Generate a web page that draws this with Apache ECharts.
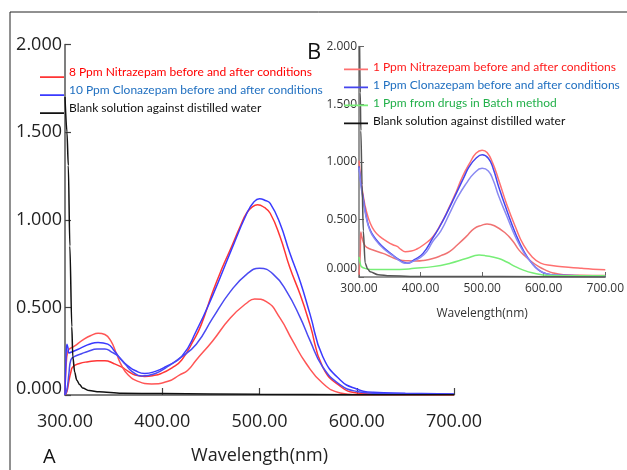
<!DOCTYPE html>
<html>
<head>
<meta charset="utf-8">
<script src="https://cdn.jsdelivr.net/npm/echarts@6/dist/echarts.min.js"></script>
<style>
html,body{margin:0;padding:0;background:#fff;}
#c{width:627px;height:470px;}
</style>
</head>
<body>
<div id="c"></div>
<script>
// ---------- Panel A (main) ----------
const xTicks = [300, 400, 500, 600, 700];
const yTicks = [0, 0.5, 1.0, 1.5, 2.0];

const nameA_N = '8 Ppm Nitrazepam before and after conditions';
const nameA_C = '10 Ppm Clonazepam before and after conditions';
const nameBlank = 'Blank solution against distilled water';

// Nitrazepam, high peak
const wlA_N1 = [300,302,304,306,308,315,324,333,341,350,358,365,372,382,390,399,410,420,432,440,452,462,470,480,487,493,498,505,511,521,531,542,552,565,583,600,620,700];
const abA_N1 = [0.0,0.02,0.08,0.13,0.16,0.18,0.19,0.196,0.196,0.18,0.16,0.135,0.114,0.106,0.11,0.123,0.155,0.2,0.31,0.40,0.59,0.73,0.83,0.96,1.04,1.075,1.085,1.07,1.037,0.906,0.73,0.57,0.40,0.16,0.05,0.012,0.005,0.003];
// Nitrazepam, low peak
const wlA_N2 = [300,301,303,310,320,327,334,341,347,353,358,365,375,389,406,418,426,435,452,470,487,495,507,521,534,548,565,583,600,700];
const abA_N2 = [0.0,0.15,0.25,0.28,0.32,0.34,0.352,0.345,0.31,0.235,0.17,0.114,0.078,0.063,0.078,0.115,0.14,0.2,0.31,0.44,0.525,0.548,0.533,0.44,0.31,0.18,0.067,0.012,0.002,0.0];
// Clonazepam, high peak
const wlA_C1 = [300,301,302,303,304,307,317,325,334,344,351,358,365,372,382,393,403,420,435,452,470,487,494,500,506,511,521,531,542,552,565,583,600,617,650,700];
const abA_C1 = [0.0,0.2,0.29,0.27,0.24,0.245,0.27,0.29,0.30,0.29,0.25,0.20,0.165,0.14,0.123,0.135,0.16,0.22,0.365,0.57,0.813,1.037,1.1,1.12,1.11,1.093,0.98,0.813,0.645,0.46,0.22,0.086,0.034,0.015,0.01,0.005];
// Clonazepam, low peak
const wlA_C2 = [300,302,304,306,310,317,324,333,341,348,355,362,369,379,393,405,418,435,452,470,487,500,514,528,542,552,565,583,600,617,650,700];
const abA_C2 = [0.0,0.03,0.12,0.2,0.22,0.235,0.25,0.262,0.263,0.245,0.22,0.175,0.134,0.108,0.123,0.16,0.21,0.29,0.44,0.59,0.69,0.723,0.69,0.59,0.44,0.31,0.16,0.058,0.02,0.01,0.006,0.004];
// Blank
const wlA_B = [300,302,303.4,305,307,308,310,312,315,318,325,335,358,400,500,600,700];
const abA_B = [1.70,1.5,1.31,0.85,0.39,0.22,0.13,0.086,0.06,0.04,0.025,0.018,0.01,0.008,0.004,0.002,0.001];

// ---------- Panel B (inset) ----------
const nameB_N = '1 Ppm Nitrazepam before and after conditions';
const nameB_C = '1 Ppm Clonazepam before and after conditions';
const nameB_G = '1 Ppm from drugs in Batch method';

const wlB_N1 = [300,303,307,312,318,325,334,345,355,362,368,375,385,393,405,420,433,447,458,468,480,490,500,508,517,527,540,554,567,581,595,613,640,662,680,700];
const abB_N1 = [1.01,0.85,0.70,0.57,0.47,0.40,0.35,0.31,0.28,0.265,0.24,0.22,0.225,0.24,0.28,0.35,0.46,0.61,0.74,0.87,0.99,1.073,1.10,1.08,0.99,0.84,0.63,0.436,0.28,0.175,0.12,0.10,0.085,0.075,0.068,0.062];
const wlB_N2 = [300,302,303,305,308,312,325,339,352,366,380,393,407,420,433,447,460,474,487,500,508,520,538,550,560,570,581,592,603,615,632,660,700];
const abB_N2 = [0.02,0.2,0.39,0.34,0.29,0.26,0.23,0.205,0.175,0.147,0.14,0.138,0.145,0.16,0.185,0.22,0.28,0.35,0.42,0.45,0.46,0.445,0.38,0.31,0.233,0.18,0.13,0.09,0.06,0.035,0.02,0.015,0.012];
const wlB_C1 = [300,303,307,312,318,327,339,355,365,371,379,390,404,420,431,445,458,470,479,490,500,510,518,527,540,554,568,581,592,603,620,700];
const abB_C1 = [0.96,0.82,0.68,0.52,0.41,0.33,0.26,0.19,0.15,0.13,0.12,0.15,0.205,0.34,0.436,0.58,0.726,0.86,0.957,1.03,1.06,1.03,0.94,0.78,0.58,0.38,0.22,0.118,0.06,0.03,0.015,0.01];
const wlB_C2 = [300,303,307,312,318,327,339,355,365,375,385,400,410,420,433,447,460,474,487,500,510,518,527,540,554,568,581,592,603,620,700];
const abB_C2 = [0.95,0.80,0.66,0.51,0.40,0.32,0.25,0.185,0.145,0.12,0.13,0.17,0.22,0.31,0.40,0.55,0.69,0.81,0.90,0.943,0.92,0.84,0.70,0.53,0.35,0.21,0.12,0.06,0.03,0.015,0.01];
const wlB_G = [300,302,304,310,318,340,366,390,420,447,474,495,505,527,540,554,567,581,597,613,650,700];
const abB_G = [0.175,0.12,0.09,0.075,0.066,0.066,0.066,0.075,0.09,0.118,0.16,0.19,0.185,0.16,0.13,0.09,0.06,0.036,0.02,0.012,0.01,0.01];
const wlB_B = [301,302,303,305,307,310,314,318,331,350,400,700];
const abB_B = [2.0,1.6,1.27,0.8,0.4,0.12,0.07,0.045,0.02,0.01,0.005,0.0];

function pairs(xs, ys){ return xs.map((x,i)=>[x, ys[i]]); }

const FONT_AX = 'Open Sans';
const FONT_LG = 'Lato';

function mkSeries(name, xi, yi, xs, ys, color, mono){
  const s = {
    type:'line', name, xAxisIndex:xi, yAxisIndex:yi,
    data: pairs(xs, ys), showSymbol:false, symbol:'none',
    smooth: mono ? 0.3 : 0.5,
    lineStyle:{color, width:1.5}, itemStyle:{color},
    emphasis:{disabled:true}, silent:true, animation:false
  };
  if (mono) s.smoothMonotone = 'x';
  return s;
}

const chart = echarts.init(document.getElementById('c'), null, {renderer:'canvas'});

const ICON_A = 'path://M0,0 L24,0 L24,0.01 L0,0.01 Z M0,10.2 L24,10.2 L24,12 L0,12 Z';
const ICON_B = 'path://M0,0 L24,0 L24,0.01 L0,0.01 Z M0,7.6 L24,7.6 L24,9.2 L0,9.2 Z M0,11.99 L24,11.99 L24,12 L0,12 Z';

const option = {
  backgroundColor:'#fff',
  animation:false,
  title:[
    {text:'A', left:38, top:442, textStyle:{fontFamily:FONT_AX, fontSize:20, fontWeight:'normal', color:'#111'}},
    {text:'B', left:302, top:37, textStyle:{fontFamily:FONT_AX, fontSize:22, fontWeight:'normal', color:'#111'}}
  ],
  grid:[
    {left:65, right:173, top:44.5, bottom:68, containLabel:false},
    {left:359, right:20, top:46.5, bottom:193, containLabel:false}
  ],
  xAxis:[
    {type:'value', gridIndex:0, min:xTicks[0], max:xTicks[xTicks.length-1], interval:100,
     name:'Wavelength(nm)', nameLocation:'middle', nameGap:52,
     nameTextStyle:{fontFamily:FONT_AX, fontSize:18, color:'#222'},
     axisLine:{show:true, onZero:false, lineStyle:{color:'#555', width:1.5}},
     axisTick:{show:true, inside:true, length:7, lineStyle:{color:'#444', width:1.2}},
     splitLine:{show:false},
     axisLabel:{fontFamily:FONT_AX, fontSize:18, color:'#222', margin:18, formatter:v=>v.toFixed(2), showMinLabel:true, showMaxLabel:true}},
    {type:'value', gridIndex:1, min:xTicks[0], max:xTicks[xTicks.length-1], interval:100,
     name:'Wavelength(nm)', nameLocation:'middle', nameGap:31,
     nameTextStyle:{fontFamily:FONT_AX, fontSize:12, color:'#333'},
     axisLine:{show:true, onZero:false, lineStyle:{color:'#777', width:1.5}},
     axisTick:{show:true, inside:true, length:5, lineStyle:{color:'#666'}},
     splitLine:{show:false},
     axisLabel:{fontFamily:FONT_AX, fontSize:12, color:'#333', margin:6, formatter:v=>v.toFixed(2), showMinLabel:true, showMaxLabel:true}}
  ],
  yAxis:[
    {type:'value', gridIndex:0, min:yTicks[0], max:yTicks[yTicks.length-1], interval:0.5,
     axisLine:{show:true, onZero:false, lineStyle:{color:'#555', width:1.5}},
     axisTick:{show:true, inside:true, length:6, lineStyle:{color:'#444', width:1.2}},
     splitLine:{show:false},
     axisLabel:{fontFamily:FONT_AX, fontSize:18, color:'#222', margin:3,
       formatter:v=> v===0 ? '{z|0.000}' : v.toFixed(3),
       rich:{z:{fontFamily:FONT_AX, fontSize:18, color:'#222', padding:[0,0,13,0]}}}},
    {type:'value', gridIndex:1, min:yTicks[0], max:yTicks[yTicks.length-1], interval:0.5,
     axisLine:{show:true, onZero:false, lineStyle:{color:'#777', width:1.5}},
     axisTick:{show:true, inside:true, length:5, lineStyle:{color:'#666'}},
     splitLine:{show:false},
     axisLabel:{fontFamily:FONT_AX, fontSize:12, color:'#333', margin:2,
       formatter:v=> v===0 ? '{z|0.000}' : v.toFixed(3),
       rich:{z:{fontFamily:FONT_AX, fontSize:12, color:'#333', padding:[0,0,16,0]}}}}
  ],
  legend:[
    {orient:'vertical', left:40, top:66, padding:0, itemWidth:24, itemHeight:12, itemGap:6,
     icon:ICON_A, selectedMode:false,
     textStyle:{fontFamily:FONT_LG, fontSize:12},
     data:[
       {name:nameA_N, textStyle:{color:'#ff0000'}},
       {name:nameA_C, textStyle:{color:'#1f6fc0'}},
       {name:nameBlank, textStyle:{color:'#111'}}
     ]},
    {orient:'vertical', left:344, top:61, padding:0, itemWidth:24, itemHeight:12, itemGap:6,
     icon:ICON_B, selectedMode:false,
     textStyle:{fontFamily:FONT_LG, fontSize:12},
     data:[
       {name:nameB_N, textStyle:{color:'#ff1a1a'}},
       {name:nameB_C, textStyle:{color:'#1f6fc0'}},
       {name:nameB_G, textStyle:{color:'#22b04a'}},
       {name:nameBlank, textStyle:{color:'#111'}}
     ]}
  ],
  graphic:[
    {type:'line', shape:{x1:10, y1:12, x2:10, y2:470}, style:{stroke:'#222', lineWidth:1}, silent:true},
    {type:'line', shape:{x1:10, y1:12, x2:627, y2:12}, style:{stroke:'#222', lineWidth:1}, silent:true}
  ],
  series:[
    mkSeries(nameA_N, 0,0, wlA_N1, abA_N1, '#ff3535'),
    mkSeries(nameA_N, 0,0, wlA_N2, abA_N2, '#ff5555'),
    mkSeries(nameA_C, 0,0, wlA_C1, abA_C1, '#3a3aff'),
    mkSeries(nameA_C, 0,0, wlA_C2, abA_C2, '#4a4af2'),
    mkSeries(nameBlank, 0,0, wlA_B, abA_B, '#111111', true),
    mkSeries(nameB_N, 1,1, wlB_N1, abB_N1, '#ff7070'),
    mkSeries(nameB_N, 1,1, wlB_N2, abB_N2, '#f07272'),
    mkSeries(nameB_C, 1,1, wlB_C1, abB_C1, '#4545ee'),
    mkSeries(nameB_C, 1,1, wlB_C2, abB_C2, '#8a8af2'),
    mkSeries(nameB_G, 1,1, wlB_G, abB_G, '#77ee77'),
    mkSeries(nameBlank, 1,1, wlB_B, abB_B, '#555555', true)
  ]
};
chart.setOption(option);
</script>
</body>
</html>
